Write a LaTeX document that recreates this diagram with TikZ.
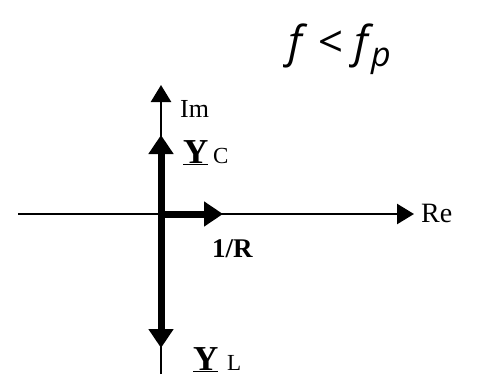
\documentclass[tikz,border=0pt]{standalone}
\usepackage{fontspec}
\setmainfont{Liberation Serif}
\newfontfamily\titlefont{Open Sans}
\usetikzlibrary{arrows.meta}
\tikzset{
  axisline/.style={line width=2.5pt,-{Triangle[length=17pt,width=20pt]}},
  vecline/.style={line width=7pt,-{Triangle[length=19pt,width=24pt]}},
  lbl/.style={inner sep=0pt,anchor=base west},
  bigY/.style={lbl,font=\bfseries\fontsize{35}{37}\selectfont},
  subl/.style={lbl,font=\fontsize{23}{25}\selectfont},
  ttl/.style={inner sep=0pt,anchor=base west,font=\titlefont\itshape\fontsize{44}{46}\selectfont},
}
\begin{document}
\begin{tikzpicture}[x=1pt,y=-1pt]
\useasboundingbox (0,0) rectangle (481,383);
\coordinate (O) at (161,214);
\coordinate (top) at (161,85);
\coordinate (bot) at (161,374);
\coordinate (left) at (18,214);
\coordinate (right) at (414,214);
\coordinate (C) at (161,135);
\coordinate (L) at (161,348);
\coordinate (R) at (223,214);
\draw[axisline] (bot) -- (top);
\draw[axisline] (left) -- (right);
\draw[vecline] (O) -- (C);
\draw[vecline] (O) -- (L);
\draw[vecline] (O) -- (R);
\node[lbl,font=\fontsize{26}{28}\selectfont] (im) at (180,117) {Im};
\node[lbl,font=\fontsize{28}{30}\selectfont] (re) at (421,222) {Re};
\node[bigY] (yc) at (183,163) {\underline{Y}};
\node[subl] (c) at (213,163) {C};
\node[bigY] (yl) at (193,370) {\underline{Y}};
\node[subl] (l) at (227,370) {L};
\node[lbl,font=\bfseries\fontsize{27}{29}\selectfont] (r) at (212,257) {1/R};
\node[ttl] (t1) at (288,57) {f};
\node[ttl] (t2) at (317,57) {<};
\node[ttl] (t3) at (354,57) {f};
\node[ttl,font=\titlefont\itshape\fontsize{34}{36}\selectfont] (t4) at (371,66) {p};
\end{tikzpicture}
\end{document}
